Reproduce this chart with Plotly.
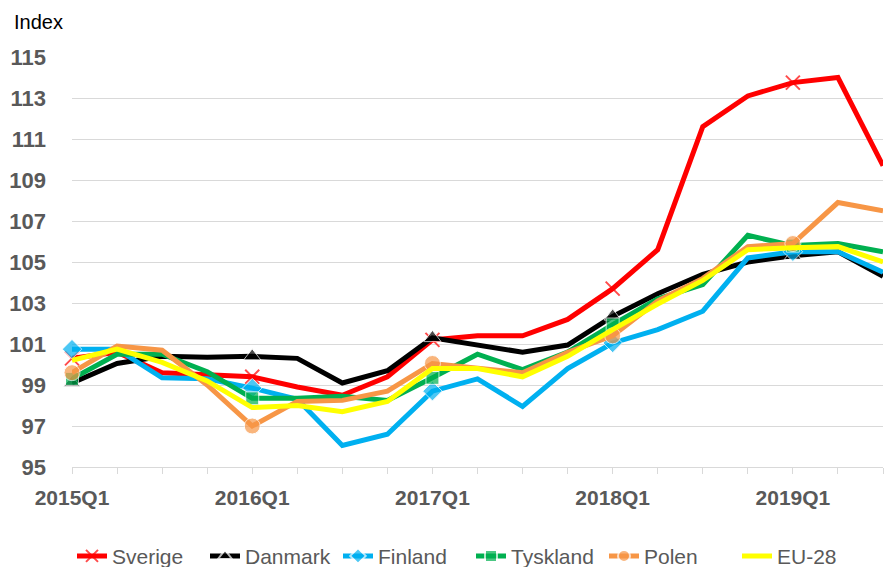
import plotly.graph_objects as go

quarters = [
    "2015Q1", "2015Q2", "2015Q3", "2015Q4",
    "2016Q1", "2016Q2", "2016Q3", "2016Q4",
    "2017Q1", "2017Q2", "2017Q3", "2017Q4",
    "2018Q1", "2018Q2", "2018Q3", "2018Q4",
    "2019Q1", "2019Q2", "2019Q3",
]

sverige = [100.3, 100.6, 99.6, 99.5, 99.4, 98.9, 98.5, 99.4, 101.2, 101.4,
           101.4, 102.2, 103.7, 105.6, 111.6, 113.1, 113.75, 114.0, 109.7]
danmark = [99.1, 100.05, 100.4, 100.35, 100.4, 100.3, 99.1, 99.7, 101.3, 100.95,
           100.6, 100.95, 102.35, 103.45, 104.4, 105.0, 105.3, 105.5, 104.3]
finland = [100.75, 100.75, 99.35, 99.3, 98.85, 98.3, 96.05, 96.6, 98.7, 99.3,
           97.95, 99.8, 101.05, 101.7, 102.6, 105.2, 105.5, 105.5, 104.5]
tyskland = [99.3, 100.5, 100.5, 99.65, 98.35, 98.35, 98.45, 98.25, 99.35, 100.5,
            99.75, 100.6, 101.95, 103.2, 103.9, 106.3, 105.8, 105.9, 105.5]
polen = [99.6, 100.9, 100.7, 99.0, 97.0, 98.2, 98.25, 98.7, 100.05, 99.85,
         99.6, 100.6, 101.4, 103.1, 104.2, 105.75, 105.9, 107.9, 107.5]
eu28 = [100.2, 100.75, 100.1, 99.2, 97.9, 98.0, 97.7, 98.2, 99.8, 99.8,
        99.4, 100.4, 101.7, 102.95, 104.1, 105.6, 105.7, 105.75, 105.0]

y_ticks = [95, 97, 99, 101, 103, 105, 107, 109, 111, 113, 115]

series = [
    ("Sverige", sverige, "#FF0000", "x-thin", 14),
    ("Danmark", danmark, "#000000", "triangle-up", 15),
    ("Finland", finland, "#00B0F0", "diamond", 15),
    ("Tyskland", tyskland, "#00B050", "square", 13),
    ("Polen", polen, "#F79646", "circle", 16),
    ("EU-28", eu28, "#FFFF00", None, 0),
]

fig = go.Figure()
for name, vals, color, symbol, size in series:
    # markers only on the Q1 points
    sizes = [size if q.endswith("Q1") else 0 for q in quarters]
    marker = dict(color=color, size=sizes)
    if symbol:
        marker["symbol"] = symbol
        if symbol == "x-thin":
            marker["line"] = dict(color=color, width=2)
    fig.add_trace(
        go.Scatter(
            x=quarters,
            y=vals,
            name=name,
            mode="lines+markers" if symbol else "lines",
            line=dict(color=color, width=5),
            marker=marker,
            cliponaxis=False,
        )
    )

fig.update_layout(
    width=889,
    height=567,
    margin=dict(l=72, r=6, t=57, b=100),
    plot_bgcolor="white",
    paper_bgcolor="white",
    font=dict(family="Liberation Sans, Arial, sans-serif", size=15, color="#595959"),
    legend=dict(
        orientation="h",
        x=0,
        xanchor="left",
        yref="container",
        y=0.019,
        yanchor="middle",
        font=dict(size=21, color="#595959"),
        itemsizing="constant",
        entrywidth=88,
        entrywidthmode="pixels",
        tracegroupgap=0,
    ),
    annotations=[
        dict(
            text="Index",
            xref="paper",
            yref="paper",
            x=-0.074,
            y=1.085,
            xanchor="left",
            yanchor="middle",
            showarrow=False,
            font=dict(size=20, color="#000000"),
        )
    ],
)

fig.update_xaxes(
    type="category",
    range=[0, len(quarters) - 1],
    automargin=False,
    tickmode="array",
    tickvals=quarters,
    ticktext=[f"<b>{q}</b>" if q.endswith("Q1") else "" for q in quarters],
    ticks="outside",
    ticklen=6,
    tickcolor="#D9D9D9",
    ticklabelstandoff=6,
    showline=True,
    linecolor="#D9D9D9",
    linewidth=1,
    showgrid=False,
    tickfont=dict(size=21, color="#595959"),
)
fig.update_yaxes(
    range=[95, 115],
    automargin=False,
    tickvals=y_ticks,
    ticktext=[f"<b>{v}</b>" for v in y_ticks],
    showgrid=True,
    gridcolor="#D9D9D9",
    gridwidth=1,
    zeroline=False,
    ticks="",
    ticklabelstandoff=25,
    tickfont=dict(size=22, color="#595959"),
)

# drop the default page margin so the figure sits at the window's corner
fig.write_html(
    "out.html",
    config={"displayModeBar": False},
    post_script="document.body.style.margin = '0';",
)
